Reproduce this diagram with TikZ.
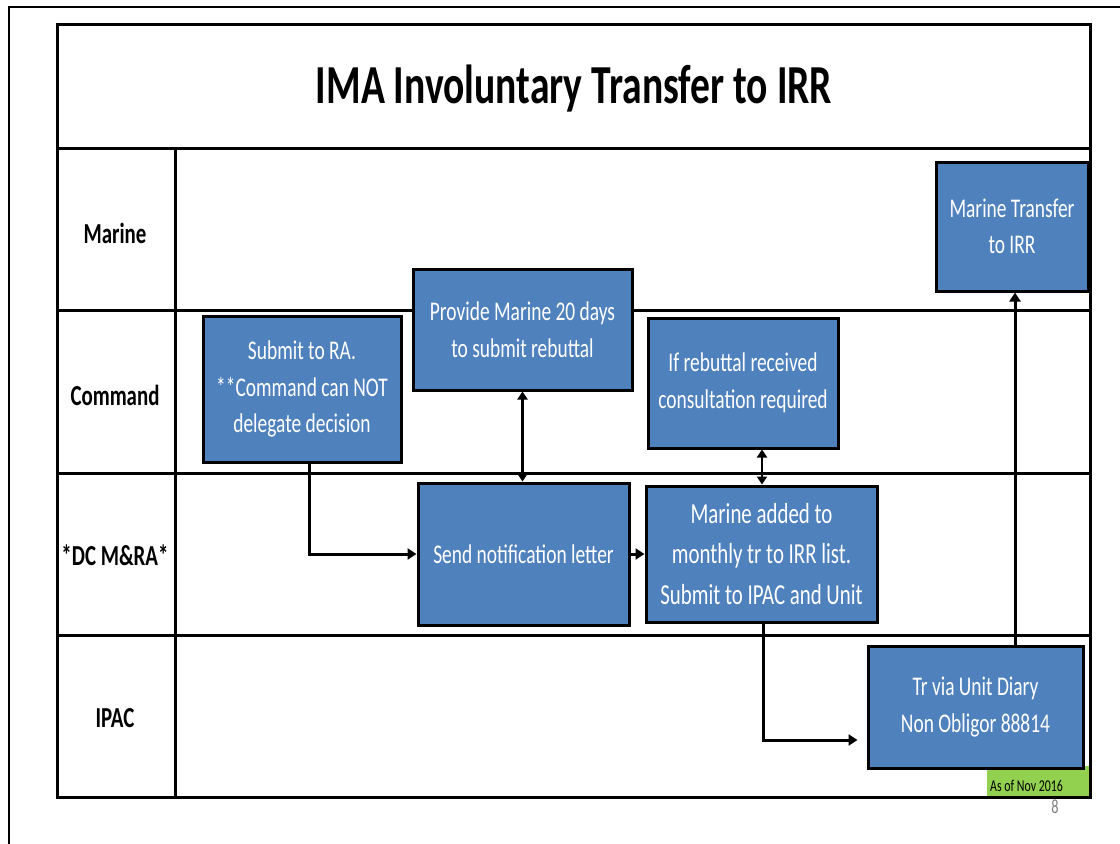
\documentclass[tikz,border=0pt]{standalone}
\usepackage{fontspec}
\setmainfont{Carlito}[FakeStretch=0.72]
\usetikzlibrary{arrows.meta}
\definecolor{boxblue}{HTML}{4F81BD}
\definecolor{stampgreen}{HTML}{92D050}
\begin{document}
\begin{tikzpicture}[x=1pt,y=-1pt,
  box/.style={draw=black, line width=3pt, fill=boxblue, text=white, align=center,
    font=\fontsize{27}{36.5}\selectfont, inner sep=0pt},
  lane/.style={font=\bfseries\fontsize{29}{32}\selectfont},
  conn/.style={line width=3pt, -{Triangle[length=9pt,width=11pt]}},
  dconn/.style={line width=2.5pt, {Triangle[length=8pt,width=10pt]}-{Triangle[length=8pt,width=10pt]}},
  grid/.style={line width=3pt}]
\useasboundingbox (0,0) rectangle (1120,844);
\fill[white] (0,0) rectangle (1120,844);
% outer slide frame
\draw[line width=2pt] (9,844) -- (9,6.5) -- (1120,6.5);
% green stamp
\node[fill=stampgreen, inner sep=0pt, minimum width=103pt, minimum height=31pt] (stamp) at (1038.5,781.5) {};
\node[anchor=base west, inner sep=0pt, font=\fontsize{16.5}{18}\selectfont] (stamptext) at (990,791) {As of Nov 2016};
% table
\draw[grid] (57,24) rectangle (1090,797);
\draw[grid] (57,148) -- (1090,148);
\draw[grid] (57,310) -- (1090,310);
\draw[grid] (57,473) -- (1090,473);
\draw[grid] (57,635) -- (1090,635);
\draw[grid] (175,148) -- (175,797);
% title
\node[font=\bfseries\fontsize{55}{60}\selectfont] (title) at (574,89) {IMA Involuntary Transfer to IRR};
% lane labels
\node[lane] (lmarine) at (115,233) {Marine};
\node[lane] (lcommand) at (115,395) {Command};
\node[lane] (ldc) at (115,555) {*DC M\&RA*};
\node[lane] (lipac) at (115,718) {IPAC};
% boxes
\node[box, minimum width=198pt, minimum height=146pt] (b1) at (302,389) {Submit to RA.\\**Command can NOT\\delegate decision};
\node[box, minimum width=219pt, minimum height=121pt] (b2) at (522.5,329.5) {Provide Marine 20 days\\to submit rebuttal};
\node[box, minimum width=190pt, minimum height=130pt] (b3) at (743,383) {If rebuttal received\\consultation required};
\node[box, minimum width=211pt, minimum height=142pt] (b4) at (523.5,554) {Send notification letter};
\node[box, minimum width=231pt, minimum height=136pt, font=\fontsize{29}{40.5}\selectfont] (b5) at (761.5,554) {Marine added to\\monthly tr to IRR list.\\Submit to IPAC and Unit};
\node[box, minimum width=152pt, minimum height=129pt] (b6) at (1012,226.5) {Marine Transfer\\to IRR};
\node[box, minimum width=215pt, minimum height=122pt] (b7) at (975.5,707) {Tr via Unit Diary\\Non Obligor 88814};
% page number
\node[text=gray, font=\fontsize{20}{22}\selectfont] (pnum) at (1055,807) {8};
% connectors
\draw[conn] ([xshift=7pt]b1.south) |- (b4.west);
\draw[dconn] (b2.south) -- (b2.south |- b4.north);
\draw[conn] (b4.east) -- (b5.west);
\draw[dconn] ([xshift=19pt]b3.south) -- ([xshift=19pt]b3.south |- b5.north);
\draw[conn, shorten >=9pt] ([xshift=1.5pt]b5.south) |- ([yshift=-33pt]b7.west);
\draw[conn] ([xshift=39.5pt]b7.north) -- ([xshift=39.5pt]b7.north |- b6.south);
\end{tikzpicture}
\end{document}
